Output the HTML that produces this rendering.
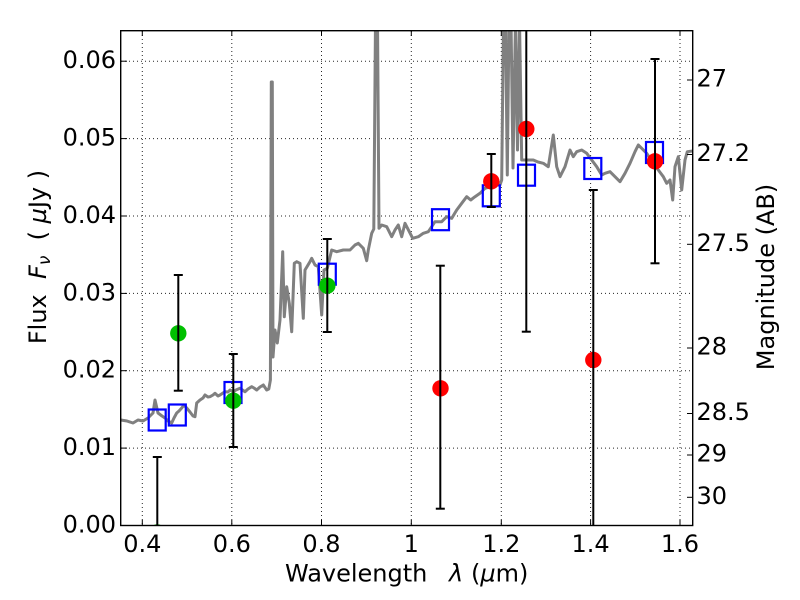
<!DOCTYPE html>
<html><head><meta charset="utf-8"><style>
html,body{margin:0;padding:0;background:#fff;}
svg{display:block;}
text{font-family:"DejaVu Sans","Liberation Sans",sans-serif;fill:#000;}
</style></head><body>
<svg width="800" height="600" viewBox="0 0 800 600" xmlns="http://www.w3.org/2000/svg">
<defs><clipPath id="pa"><rect x="120.5" y="30.5" width="572" height="495"/></clipPath></defs>
<rect width="800" height="600" fill="#fff"/>
<!-- grid -->
<g stroke="#000" stroke-width="1" stroke-dasharray="1,3" opacity="0.85">
<line x1="142.3" y1="31" x2="142.3" y2="525"/>
<line x1="231.8" y1="31" x2="231.8" y2="525"/>
<line x1="321.5" y1="31" x2="321.5" y2="525"/>
<line x1="411.3" y1="31" x2="411.3" y2="525"/>
<line x1="501.3" y1="31" x2="501.3" y2="525"/>
<line x1="590.6" y1="31" x2="590.6" y2="525"/>
<line x1="680" y1="31" x2="680" y2="525"/>
<line x1="121" y1="448.1" x2="692" y2="448.1"/>
<line x1="121" y1="370.7" x2="692" y2="370.7"/>
<line x1="121" y1="293.4" x2="692" y2="293.4"/>
<line x1="121" y1="216.0" x2="692" y2="216.0"/>
<line x1="121" y1="138.6" x2="692" y2="138.6"/>
<line x1="121" y1="61.2" x2="692" y2="61.2"/>
</g>
<g clip-path="url(#pa)">
<polyline fill="none" stroke="#808080" stroke-width="3" stroke-linejoin="round" stroke-linecap="round" points="120.7,420 127,421 133,423 138,420 143,421 148,418 153,413 155,400 158,413 162,416 165,418 168,421 171.7,423 174,418 176.7,413 179,411 181.7,408 184,405 186.7,408 190,412 193,416 195,416.7 196.7,403 200,400 203,398 205,395 208,397 210,396.7 213,395 215,393.3 218,396 220,395 223,393 225,391.7 228,392 230,390 233.3,391.7 236,390 240,388.3 245,391.7 248,389 251.7,386.7 254,388 256.7,390 260,387 263.3,385 266.7,390 268.8,389 270.4,380 271.3,82 272.3,82 273,357 275,330 277.3,343 280,320 282.7,251.7 284.3,316.7 286.7,286.7 289.3,303.3 291.7,331.7 294.3,263.3 296.7,261.7 300,263.3 303.3,318.3 305,270 310,261.7 311.7,258.3 315,265 318.3,266.7 321.7,315 324,270 327.3,268.3 331.7,250 336.7,251.7 343.3,250 350,250 355,245 358.3,243.3 363.3,248.3 366.7,260.7 368.3,250 371.7,233.3 373.8,229 375.5,20 377.5,20 379,228.3 381.7,225 386.7,226.7 391.7,236.7 395,230 398.3,225 401.7,236.7 405,223.3 409.3,231.7 412.7,238.3 418.3,236.7 423.3,233.3 428.3,231.7 431.7,226.7 435,221.7 441.7,221.7 446.7,216.7 451.7,218.3 456.7,210 461.7,203.3 466.7,196.7 470.7,200 475,196.7 480,193.3 485,188.3 490,186.7 495,185 500,185 501.7,180 503.5,20 505.5,20 507.3,175 509,20 511,20 513,168 515.5,20 517.5,150 519.5,20 521.7,160 527,160 533.3,160 538,162 543.3,163.3 548.3,166.7 553.3,135 556.7,166.7 560,176.7 565,166.7 570,150 573.3,156.7 576.7,151.7 581.7,150 586.7,153.3 591.7,160 596.7,166.7 601.7,175 605,173.3 610,171.7 615,176.7 620,181.7 625,173.3 630,163.3 635,151.7 638.3,145 641.7,148.3 646.7,153.3 653.3,163.3 658.3,170 663.3,176.7 666.7,183.3 670,180 672.7,200 675,166.7 678.3,156.7 681.7,190 685,160 687.3,151.7 695,150.7"/>
<!-- squares -->
<g fill="none" stroke="#0000ff" stroke-width="2.2">
<rect x="148.7" y="409.5" width="17" height="21"/>
<rect x="168.8" y="404.5" width="17" height="21"/>
<rect x="224.5" y="382" width="17" height="21"/>
<rect x="318.8" y="263.7" width="17" height="21"/>
<rect x="432" y="209.2" width="17" height="21"/>
<rect x="482.8" y="185.3" width="17" height="21"/>
<rect x="518" y="164.7" width="17" height="21"/>
<rect x="584.3" y="158" width="17" height="21"/>
<rect x="646" y="142" width="17" height="21"/>
</g>
<!-- circles -->
<g fill="#00c000">
<circle cx="157.3" cy="532.5" r="8.2"/>
<circle cx="178.3" cy="333.3" r="8.2"/>
<circle cx="233.3" cy="400.7" r="8.2"/>
<circle cx="327.3" cy="285.7" r="8.2"/>
</g>
<g fill="#ff0000">
<circle cx="440.5" cy="388.3" r="8.2"/>
<circle cx="491.3" cy="181.3" r="8.2"/>
<circle cx="526.3" cy="129" r="8.2"/>
<circle cx="593.3" cy="360" r="8.2"/>
<circle cx="655" cy="161.3" r="8.2"/>
</g>
<!-- error bars -->
<g stroke="#000" stroke-width="2" fill="none">
<line x1="157.3" y1="457" x2="157.3" y2="530"/><line x1="152.8" y1="457" x2="161.8" y2="457"/>
<line x1="178.3" y1="275" x2="178.3" y2="390.7"/><line x1="173.8" y1="275" x2="182.8" y2="275"/><line x1="173.8" y1="390.7" x2="182.8" y2="390.7"/>
<line x1="233.3" y1="354" x2="233.3" y2="447"/><line x1="228.8" y1="354" x2="237.8" y2="354"/><line x1="228.8" y1="447" x2="237.8" y2="447"/>
<line x1="327.3" y1="239" x2="327.3" y2="332"/><line x1="322.8" y1="239" x2="331.8" y2="239"/><line x1="322.8" y1="332" x2="331.8" y2="332"/>
<line x1="440.3" y1="265.7" x2="440.3" y2="508.7"/><line x1="435.8" y1="265.7" x2="444.8" y2="265.7"/><line x1="435.8" y1="508.7" x2="444.8" y2="508.7"/>
<line x1="491.3" y1="154" x2="491.3" y2="207"/><line x1="486.8" y1="154" x2="495.8" y2="154"/><line x1="486.8" y1="207" x2="495.8" y2="207"/>
<line x1="526.3" y1="20" x2="526.3" y2="331.7"/><line x1="521.8" y1="331.7" x2="530.8" y2="331.7"/>
<line x1="593.3" y1="190" x2="593.3" y2="530"/><line x1="588.8" y1="190" x2="597.8" y2="190"/>
<line x1="655" y1="59" x2="655" y2="263.3"/><line x1="650.5" y1="59" x2="659.5" y2="59"/><line x1="650.5" y1="263.3" x2="659.5" y2="263.3"/>
</g>
</g>
<!-- spines -->
<rect x="120.7" y="30.7" width="572" height="494.8" fill="none" stroke="#000" stroke-width="1.4"/>
<!-- ticks -->
<g stroke="#000" stroke-width="1">
<line x1="142.3" y1="525.5" x2="142.3" y2="520"/><line x1="231.8" y1="525.5" x2="231.8" y2="520"/><line x1="321.5" y1="525.5" x2="321.5" y2="520"/><line x1="411.3" y1="525.5" x2="411.3" y2="520"/><line x1="501.3" y1="525.5" x2="501.3" y2="520"/><line x1="590.6" y1="525.5" x2="590.6" y2="520"/><line x1="680" y1="525.5" x2="680" y2="520"/>
<line x1="142.3" y1="30.7" x2="142.3" y2="36"/><line x1="231.8" y1="30.7" x2="231.8" y2="36"/><line x1="321.5" y1="30.7" x2="321.5" y2="36"/><line x1="411.3" y1="30.7" x2="411.3" y2="36"/><line x1="501.3" y1="30.7" x2="501.3" y2="36"/><line x1="590.6" y1="30.7" x2="590.6" y2="36"/><line x1="680" y1="30.7" x2="680" y2="36"/>
<line x1="120.7" y1="448.1" x2="127" y2="448.1"/><line x1="120.7" y1="370.7" x2="127" y2="370.7"/><line x1="120.7" y1="293.4" x2="127" y2="293.4"/><line x1="120.7" y1="216" x2="127" y2="216"/><line x1="120.7" y1="138.6" x2="127" y2="138.6"/><line x1="120.7" y1="61.2" x2="127" y2="61.2"/>
<line x1="692.7" y1="80" x2="687" y2="80"/><line x1="692.7" y1="154.5" x2="687" y2="154.5"/><line x1="692.7" y1="244.3" x2="687" y2="244.3"/><line x1="692.7" y1="348" x2="687" y2="348"/><line x1="692.7" y1="413.5" x2="687" y2="413.5"/><line x1="692.7" y1="455" x2="687" y2="455"/><line x1="692.7" y1="497.3" x2="687" y2="497.3"/>
</g>
<!-- tick labels -->
<g font-size="24" text-anchor="end">
<text x="116" y="532.5">0.00</text>
<text x="116" y="455.1">0.01</text>
<text x="116" y="377.7">0.02</text>
<text x="116" y="300.4">0.03</text>
<text x="116" y="223">0.04</text>
<text x="116" y="145.6">0.05</text>
<text x="116" y="68.2">0.06</text>
</g>
<g font-size="24" text-anchor="middle">
<text x="142.3" y="552">0.4</text>
<text x="231.8" y="552">0.6</text>
<text x="321.5" y="552">0.8</text>
<text x="411.3" y="552">1</text>
<text x="501.3" y="552">1.2</text>
<text x="590.6" y="552">1.4</text>
<text x="680" y="552">1.6</text>
</g>
<g font-size="24" text-anchor="start">
<text x="696.5" y="86.7">27</text>
<text x="696.5" y="161.2">27.2</text>
<text x="696.5" y="251">27.5</text>
<text x="696.5" y="354.7">28</text>
<text x="696.5" y="420.2">28.5</text>
<text x="696.5" y="461.7">29</text>
<text x="696.5" y="504">30</text>
</g>
<!-- axis labels -->
<text font-size="24" x="285" y="581.7">Wavelength</text>
<text font-size="24" x="449" y="581.7" font-style="italic">λ</text>
<text font-size="24" x="471" y="581.7">(<tspan font-style="italic">µ</tspan>m)</text>
<text font-size="24" transform="translate(46,257) rotate(-90)" text-anchor="middle">Flux&#160;&#160;<tspan font-style="italic">F</tspan><tspan font-size="17" dy="4" font-style="italic">ν</tspan><tspan dy="-4">&#160; ( </tspan><tspan font-style="italic">µ</tspan>Jy )</text>
<text font-size="24" transform="translate(774,277) rotate(-90)" text-anchor="middle">Magnitude (AB)</text>
</svg>
</body></html>
